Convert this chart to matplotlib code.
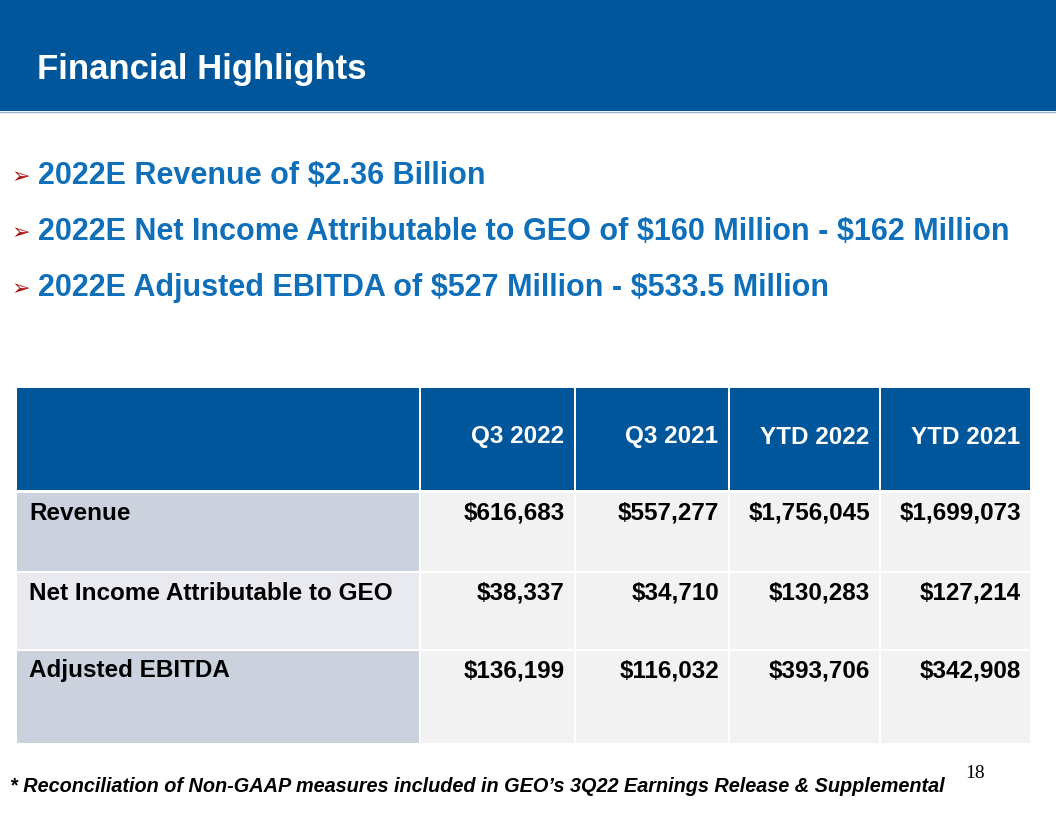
import matplotlib
matplotlib.use('Agg')
import matplotlib.pyplot as plt
from matplotlib.patches import Rectangle

# slide content
title = 'Financial Highlights'
bullets = ['2022E Revenue of $2.36 Billion',
           '2022E Net Income Attributable to GEO of $160 Million - $162 Million',
           '2022E Adjusted EBITDA of $527 Million - $533.5 Million']
col_labels = ['Q3 2022', 'Q3 2021', 'YTD 2022', 'YTD 2021']
row_labels = ['Revenue', 'Net Income Attributable to GEO', 'Adjusted EBITDA']
q3_2022 = [616683, 38337, 136199]
q3_2021 = [557277, 34710, 116032]
ytd_2022 = [1756045, 130283, 393706]
ytd_2021 = [1699073, 127214, 342908]
footnote = ('* Reconciliation of Non-GAAP measures included in GEO\u2019s 3Q22 '
            'Earnings Release & Supplemental')
page_no = '18'

BLUE = '#00569A'
TEXT_BLUE = '#0F6FB9'
W, H = 1056, 816

plt.rcParams['font.family'] = ['Liberation Sans', 'DejaVu Sans']
plt.rcParams['text.parse_math'] = False
fig = plt.figure(figsize=(W / 100, H / 100), dpi=100)
ax = fig.add_axes([0, 0, 1, 1])
ax.set_xlim(0, W)
ax.set_ylim(H, 0)
ax.axis('off')

# header bar
ax.add_patch(Rectangle((0, 0), W, 111, color=BLUE, lw=0))
ax.plot([0, W], [112, 112], color='#9DB6D0', lw=1)
ax.text(37, 69, title, color='white', fontsize=25, fontweight='bold', va='center')

# bullets
for i, b in enumerate(bullets):
    y = 176 + i * 56
    ax.text(12, y + 1, '\u27a2', color='#B01515', fontsize=16, va='center',
            family='DejaVu Sans')
    ax.text(38, y, b, color=TEXT_BLUE, fontsize=22, fontweight='bold', va='center')

# table
x_edges = [17, 419, 574, 728, 879, 1030]
y_edges = [388, 491, 571, 649, 743]
gap = 1.5
cols = [q3_2022, q3_2021, ytd_2022, ytd_2021]

for c in range(5):
    x0, x1 = x_edges[c], x_edges[c + 1]
    ax.add_patch(Rectangle((x0 + (gap if c else 0), y_edges[0]),
                           x1 - x0 - (gap if c else 0), y_edges[1] - y_edges[0] - gap,
                           color=BLUE, lw=0))
    if c:
        ax.text(x1 - 10, 437, col_labels[c - 1], color='white', fontsize=17.5,
                fontweight='bold', ha='right', va='center')

for r in range(3):
    y0, y1 = y_edges[r + 1], y_edges[r + 2]
    first_fill = '#E8EAF0' if r == 1 else '#CBD2DE'
    for c in range(5):
        x0, x1 = x_edges[c], x_edges[c + 1]
        fill = first_fill if c == 0 else '#F2F2F2'
        ax.add_patch(Rectangle((x0 + (gap if c else 0), y0 + gap),
                               x1 - x0 - (gap if c else 0), y1 - y0 - gap,
                               color=fill, lw=0))
    ty = y0 + 22
    ax.text(x_edges[0] + 12, ty, row_labels[r], color='black', fontsize=17.5,
            fontweight='bold', va='center')
    for c, vals in enumerate(cols):
        ax.text(x_edges[c + 2] - 9, ty, '${:,}'.format(vals[r]), color='black',
                fontsize=17.5, fontweight='bold', ha='right', va='center')

# footnote and page number
ax.text(10, 786, footnote, color='black', fontsize=14.3, fontweight='bold',
        style='italic', va='center')
ax.text(965, 773, page_no, color='black', fontsize=14, va='center',
        family='Liberation Serif')

fig.savefig('out.png', dpi=100, facecolor='white')
